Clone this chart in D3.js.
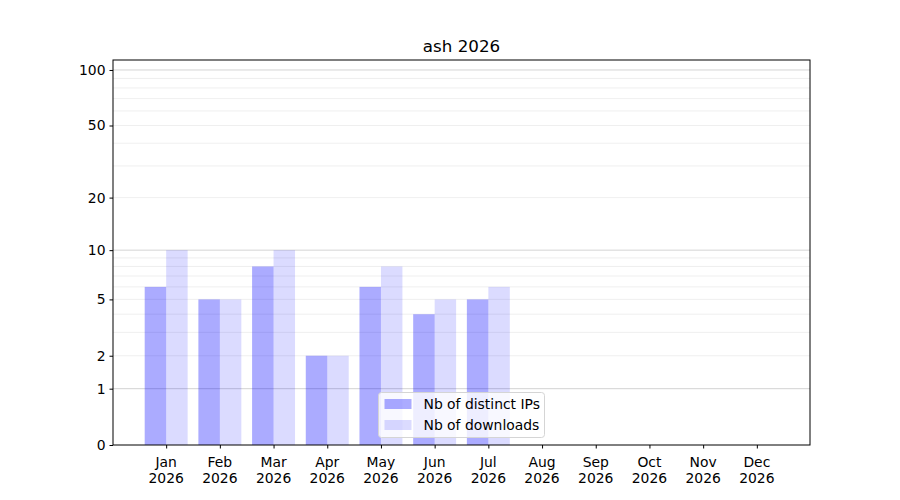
<!DOCTYPE html>
<html>
<head>
<meta charset="utf-8">
<script src="https://cdn.jsdelivr.net/npm/d3@7"></script>
<style>
  body { margin: 0; background: #fff; }
  svg { font-family: "DejaVu Sans", sans-serif; }
</style>
</head>
<body>
<div id="chart"></div>
<script>
// data
const title = "ash 2026"
const months = ["Jan", "Feb", "Mar", "Apr", "May", "Jun", "Jul", "Aug", "Sep", "Oct", "Nov", "Dec"]
const year = "2026"
const distinctIPs = [6, 5, 8, 2, 6, 4, 5, 0, 0, 0, 0, 0]
const downloads = [10, 5, 10, 2, 8, 5, 6, 0, 0, 0, 0, 0]
const yTicks = [0, 1, 2, 5, 10, 20, 50, 100]
const majorGrid = [1, 10, 100]
const minorGrid = [2, 3, 4, 5, 6, 7, 8, 9, 20, 30, 40, 50, 60, 70, 80, 90]
const seriesNames = ["Nb of distinct IPs", "Nb of downloads"]

let width = 900
let height = 500
let margin = { left: 113, right: 90, top: 60, bottom: 55 }
let fontSize = "13.9px"

let svg = d3.select("#chart").append("svg")
    .attr("width", width)
    .attr("height", height)

// scales
let xScale = d3.scaleLinear()
    .domain([-0.99, 11.99])
    .range([margin.left, width - margin.right])

let yScale = d3.scaleSymlog()
    .constant(1)
    .domain([0, 113.2])
    .range([height - margin.bottom, margin.top])

let barW = 0.4

// grid lines
svg.append("g").selectAll("line")
    .data(minorGrid)
    .enter().append("line")
    .attr("x1", margin.left).attr("x2", width - margin.right)
    .attr("y1", d => yScale(d)).attr("y2", d => yScale(d))
    .attr("stroke", "#ebebeb")
    .attr("stroke-width", 0.8)

svg.append("g").selectAll("line")
    .data(majorGrid)
    .enter().append("line")
    .attr("x1", margin.left).attr("x2", width - margin.right)
    .attr("y1", d => yScale(d)).attr("y2", d => yScale(d))
    .attr("stroke", "#c8c8c8")
    .attr("stroke-width", 0.8)

// bars
let colors = ["rgba(0,0,255,0.33)", "rgba(0,0,255,0.14)"]

svg.append("g").selectAll("rect")
    .data(distinctIPs)
    .enter().append("rect")
    .attr("x", (d, i) => xScale(i - barW))
    .attr("width", xScale(barW) - xScale(0))
    .attr("y", d => yScale(d))
    .attr("height", d => yScale(0) - yScale(d))
    .attr("fill", colors[0])

svg.append("g").selectAll("rect")
    .data(downloads)
    .enter().append("rect")
    .attr("x", (d, i) => xScale(i))
    .attr("width", xScale(barW) - xScale(0))
    .attr("y", d => yScale(d))
    .attr("height", d => yScale(0) - yScale(d))
    .attr("fill", colors[1])

// y axis
let yAxis = svg.append("g")
    .attr("transform", "translate(" + margin.left + ",0)")
    .call(d3.axisLeft(yScale).tickValues(yTicks).tickFormat(d3.format("d")).tickSize(3.5).tickPadding(4))
yAxis.select(".domain").remove()
yAxis.selectAll("text").attr("font-size", fontSize).attr("fill", "#000").attr("font-family", "DejaVu Sans")
yAxis.selectAll("line").attr("stroke", "#000")

// x axis
let xAxis = svg.append("g")
    .attr("transform", "translate(0," + (height - margin.bottom) + ")")
    .call(d3.axisBottom(xScale).tickValues(d3.range(12)).tickFormat("").tickSize(3.5))
xAxis.select(".domain").remove()
xAxis.selectAll("line").attr("stroke", "#000")

let xLabels = svg.append("g").selectAll("text")
    .data(months)
    .enter().append("text")
    .attr("x", (d, i) => xScale(i))
    .attr("y", height - margin.bottom + 22)
    .attr("text-anchor", "middle")
    .attr("font-size", fontSize)
xLabels.append("tspan").attr("x", (d, i) => xScale(i)).text(d => d)
xLabels.append("tspan").attr("x", (d, i) => xScale(i)).attr("dy", "15.5").text(year)

// frame
svg.append("rect")
    .attr("x", margin.left)
    .attr("y", margin.top)
    .attr("width", width - margin.right - margin.left)
    .attr("height", height - margin.bottom - margin.top)
    .attr("fill", "none")
    .attr("stroke", "#000")
    .attr("stroke-width", 1)

// title
svg.append("text")
    .attr("x", (margin.left + width - margin.right) / 2)
    .attr("y", 52)
    .attr("text-anchor", "middle")
    .attr("font-size", "16.7px")
    .text(title)

// legend
let legend = svg.append("g").attr("transform", "translate(378.5,392.5)")
legend.append("rect")
    .attr("width", 166).attr("height", 45)
    .attr("rx", 3)
    .attr("fill", "rgba(255,255,255,0.8)")
    .attr("stroke", "#d5d5d5")
seriesNames.forEach((name, i) => {
    legend.append("rect")
        .attr("x", 6).attr("y", 6.5 + i * 21)
        .attr("width", 27).attr("height", 10)
        .attr("fill", colors[i])
    legend.append("text")
        .attr("x", 45).attr("y", 16 + i * 21)
        .attr("font-size", fontSize)
        .text(name)
})
</script>
</body>
</html>
